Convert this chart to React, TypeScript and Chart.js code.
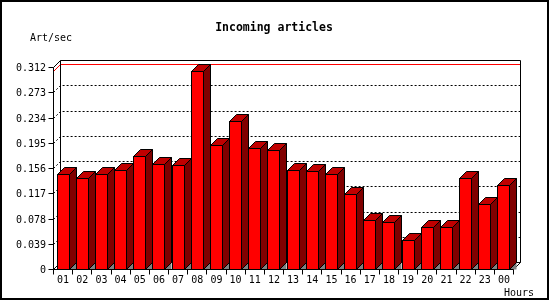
import React, { useEffect, useRef } from "react";
import { Chart, registerables } from "chart.js";

Chart.register(...registerables);

const hours = ["01","02","03","04","05","06","07","08","09","10","11","12","13","14","15","16","17","18","19","20","21","22","23","00"];
const articlesPerSec = [0.147, 0.141, 0.146, 0.153, 0.174, 0.162, 0.161, 0.306, 0.192, 0.228, 0.187, 0.184, 0.153, 0.152, 0.146, 0.116, 0.076, 0.072, 0.045, 0.065, 0.065, 0.141, 0.101, 0.130];
const yTickValues = [0, 0.039, 0.078, 0.117, 0.156, 0.195, 0.234, 0.273, 0.312];
const yTickLabels = ["0", "0.039", "0.078", "0.117", "0.156", "0.195", "0.234", "0.273", "0.312"];
const chartTitle = "Incoming articles";
const yAxisTitle = "Art/sec";
const xAxisTitle = "Hours";

const DEPTH = 7;
const MONO = '"DejaVu Sans Mono", "Liberation Mono", monospace';
const crisp = (v: number) => Math.round(v - 0.5) + 0.5;

const threeDPlugin = {
  id: "threeD",
  beforeDraw(chart: any) {
    const ctx = chart.ctx;
    ctx.save();
    ctx.fillStyle = "#ffffff";
    ctx.fillRect(0, 0, chart.width, chart.height);
    ctx.restore();
  },
  beforeDatasetsDraw(chart: any) {
    const ctx = chart.ctx;
    const a = chart.chartArea;
    const ys = chart.scales.y;
    const xs = chart.scales.x;
    const D = DEPTH;
    const L = crisp(a.left), R = crisp(a.right), T = crisp(a.top), B = crisp(a.bottom);
    ctx.save();
    ctx.lineWidth = 1;

    // dotted gridlines (back wall + left wall)
    ctx.strokeStyle = "#000";
    ctx.setLineDash([2, 2]);
    yTickValues.forEach((v) => {
      if (v === 0 || v === ys.max) return;
      const yf = crisp(ys.getPixelForValue(v));
      ctx.beginPath();
      ctx.moveTo(L, yf);
      ctx.lineTo(L + D, yf - D);
      ctx.lineTo(R + D, yf - D);
      ctx.stroke();
    });
    ctx.setLineDash([]);

    // max line
    const maxV = Math.max(...articlesPerSec);
    const ym = crisp(ys.getPixelForValue(maxV));
    ctx.strokeStyle = "#ff0000";
    ctx.beginPath();
    ctx.moveTo(L, ym);
    ctx.lineTo(L + D, ym - D);
    ctx.lineTo(R + D, ym - D);
    ctx.stroke();

    // frame
    ctx.strokeStyle = "#000";
    ctx.beginPath();
    // back rectangle
    ctx.moveTo(L + D, B - D);
    ctx.lineTo(L + D, T - D);
    ctx.lineTo(R + D, T - D);
    ctx.lineTo(R + D, B - D);
    ctx.lineTo(L + D, B - D);
    // front left axis
    ctx.moveTo(L, T);
    ctx.lineTo(L, B);
    ctx.moveTo(L, T);
    ctx.lineTo(L + D, T - D);
    ctx.moveTo(L, B);
    ctx.lineTo(L + D, B - D);
    // bottom axis
    ctx.moveTo(L, B);
    ctx.lineTo(R, B);
    ctx.lineTo(R + D, B - D);
    ctx.stroke();

    // y ticks & labels
    ctx.fillStyle = "#000";
    ctx.font = `10px ${MONO}`;
    ctx.textAlign = "right";
    ctx.textBaseline = "alphabetic";
    yTickValues.forEach((v, i) => {
      const yf = crisp(ys.getPixelForValue(v));
      ctx.beginPath();
      ctx.moveTo(L - 5, yf);
      ctx.lineTo(L, yf);
      ctx.stroke();
      ctx.fillText(yTickLabels[i], 46, yf + 3.5);
    });

    // x ticks & labels
    const n = hours.length;
    const step = (a.right - a.left) / n;
    ctx.textAlign = "center";
    for (let i = 0; i <= n; i++) {
      const xb = crisp(a.left + i * step);
      ctx.beginPath();
      ctx.moveTo(xb, B);
      ctx.lineTo(xb, B + 5);
      ctx.stroke();
    }
    hours.forEach((h, i) => {
      const xc = xs.getPixelForValue(i);
      ctx.fillText(h, xc, B + 13.5);
    });

    // titles
    ctx.textAlign = "left";
    ctx.fillText(yAxisTitle, 30, 41);
    ctx.fillText(xAxisTitle, 504, 296);
    ctx.font = `bold 11.5px ${MONO}`;
    ctx.textAlign = "center";
    ctx.fillText(chartTitle, 274, 31);
    ctx.restore();
  },
  afterDatasetsDraw(chart: any) {
    const ctx = chart.ctx;
    const a = chart.chartArea;
    const D = DEPTH;
    const B = crisp(a.bottom);
    const meta = chart.getDatasetMeta(0);
    ctx.save();
    ctx.lineWidth = 1;
    ctx.strokeStyle = "#000";
    meta.data.forEach((el: any) => {
      const p = el.getProps(["x", "y", "width"], true);
      const x0 = crisp(p.x - p.width / 2);
      const x1 = crisp(p.x + p.width / 2);
      const yT = crisp(p.y);
      // front
      ctx.fillStyle = "#ff0000";
      ctx.fillRect(x0, yT, x1 - x0, B - yT);
      ctx.strokeRect(x0, yT, x1 - x0, B - yT);
      // shadow on floor
      ctx.fillStyle = "#808080";
      ctx.beginPath();
      ctx.moveTo(x1, B);
      ctx.lineTo(x1 + D, B - D);
      ctx.lineTo(x1 + D, B);
      ctx.closePath();
      ctx.fill();
      // side
      ctx.fillStyle = "#800000";
      ctx.beginPath();
      ctx.moveTo(x1, yT);
      ctx.lineTo(x1 + D, yT - D);
      ctx.lineTo(x1 + D, B - D);
      ctx.lineTo(x1, B);
      ctx.closePath();
      ctx.fill();
      ctx.stroke();
      // top
      ctx.fillStyle = "#c00000";
      ctx.beginPath();
      ctx.moveTo(x0, yT);
      ctx.lineTo(x0 + D, yT - D);
      ctx.lineTo(x1 + D, yT - D);
      ctx.lineTo(x1, yT);
      ctx.closePath();
      ctx.fill();
      ctx.stroke();
    });
    // redraw bottom axis over shadows
    ctx.beginPath();
    ctx.moveTo(crisp(a.left), B);
    ctx.lineTo(crisp(a.right), B);
    ctx.stroke();
    ctx.restore();
  },
  afterDraw(chart: any) {
    const ctx = chart.ctx;
    ctx.save();
    ctx.strokeStyle = "#000";
    ctx.lineWidth = 2;
    ctx.strokeRect(1, 1, 547, 298);
    ctx.restore();
  },
};

export default function App() {
  const ref = useRef<HTMLCanvasElement | null>(null);
  useEffect(() => {
    document.body.style.margin = "0";
    const canvas = ref.current;
    if (!canvas) return;
    const chart = new Chart(canvas, {
      type: "bar",
      data: {
        labels: hours,
        datasets: [
          {
            data: articlesPerSec,
            backgroundColor: "rgba(0,0,0,0)",
            borderWidth: 0,
            categoryPercentage: 1,
            barPercentage: 0.626,
          },
        ],
      },
      options: {
        animation: false,
        responsive: false,
        events: [],
        layout: { padding: { left: 53.5, right: 36.5, top: 67.5, bottom: 30.5 } },
        plugins: { legend: { display: false }, tooltip: { enabled: false }, title: { display: false } },
        scales: {
          x: { display: false },
          y: {
            display: false,
            min: 0,
            max: yTickValues[yTickValues.length - 1],
            afterBuildTicks: (axis: any) => {
              axis.ticks = yTickValues.map((v) => ({ value: v }));
            },
          },
        },
      },
      plugins: [threeDPlugin],
    });
    return () => chart.destroy();
  }, []);
  return (
    <canvas ref={ref} width={550} height={300} style={{ display: "block", width: 550, height: 300 }} />
  );
}
